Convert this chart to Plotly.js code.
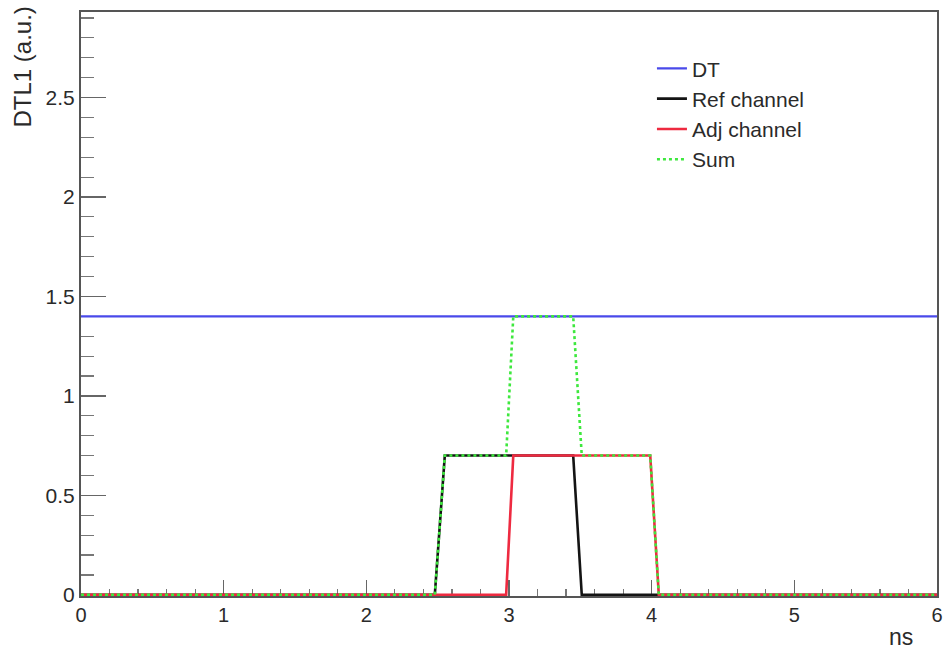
<!DOCTYPE html>
<html>
<head>
<meta charset="utf-8">
<script src="https://cdn.plot.ly/plotly-3.0.1.min.js"></script>
<style>html,body{margin:0;padding:0;background:#fff;}#chart{width:945px;height:652px;}</style>
</head>
<body>
<div id="chart"></div>
<script>
// Data
const dtX = [0, 6];
const dtY = [1.4, 1.4];
const refX = [0, 2.48, 2.55, 3.45, 3.51, 6];
const refY = [0, 0, 0.7, 0.7, 0, 0];
const adjX = [0, 2.98, 3.03, 3.99, 4.05, 6];
const adjY = [0, 0, 0.7, 0.7, 0, 0];
const sumX = [0, 2.48, 2.55, 2.98, 3.03, 3.45, 3.51, 3.99, 4.05, 6];
const sumY = [0, 0, 0.7, 0.7, 1.4, 1.4, 0.7, 0.7, 0, 0];
const seriesNames = ["DT", "Ref channel", "Adj channel", "Sum"];
const xTitle = "ns";
const yTitle = "DTL1 (a.u.)";

const font = "Liberation Sans, Arial, Helvetica, sans-serif";
const txt = "#2a2a2a";

const traces = [
  {x: dtX, y: dtY, name: seriesNames[0], mode: "lines", legendgroup: "a",
   line: {color: "#4a4aea", width: 2.3}},
  {x: refX, y: refY, name: seriesNames[1], mode: "lines", legendgroup: "b",
   line: {color: "#141414", width: 2.6}},
  {x: adjX, y: adjY, name: seriesNames[2], mode: "lines", legendgroup: "c",
   line: {color: "#ee2a40", width: 2.6}},
  {x: sumX, y: sumY, name: seriesNames[3], mode: "lines", legendgroup: "d",
   line: {color: "#3ee83e", width: 2.6, dash: "dot"}}
];

const layout = {
  width: 945, height: 652,
  margin: {l: 81, r: 8, t: 12, b: 56, pad: 0},
  paper_bgcolor: "#fff", plot_bgcolor: "#fff",
  font: {family: font, size: 20, color: txt},
  showlegend: true,
  legend: {x: 0.667, y: 0.938, xanchor: "left", yanchor: "top",
           bgcolor: "rgba(0,0,0,0)", borderwidth: 0, tracegroupgap: 0,
           font: {family: font, size: 21, color: txt}},
  xaxis: {range: [0, 6], dtick: 1, tick0: 0, showgrid: false, zeroline: false,
          showline: true, mirror: true, linecolor: "#555", linewidth: 2,
          ticks: "inside", ticklen: 16, tickwidth: 1.5, tickcolor: "#666",
          minor: {ticks: "inside", dtick: 0.2, ticklen: 7, tickwidth: 1.2, tickcolor: "#777", showgrid: false},
          tickfont: {family: font, size: 20, color: txt},
          layer: "below traces", fixedrange: true},
  yaxis: {range: [-0.006, 2.93], dtick: 0.5, tick0: 0, showgrid: false, zeroline: false,
          showline: true, mirror: true, linecolor: "#555", linewidth: 2,
          ticks: "inside", ticklen: 25, tickwidth: 1.5, tickcolor: "#666",
          minor: {ticks: "inside", dtick: 0.1, ticklen: 13, tickwidth: 1.2, tickcolor: "#777", showgrid: false},
          tickfont: {family: font, size: 21, color: txt},
          layer: "below traces", fixedrange: true},
  annotations: [
    {text: xTitle, xref: "paper", yref: "paper", x: 0.958, y: -0.07,
     xanchor: "center", yanchor: "middle", showarrow: false,
     font: {family: font, size: 23, color: txt}},
    {text: yTitle, xref: "paper", yref: "paper", x: -0.0689, y: 1.012,
     xanchor: "center", yanchor: "top", textangle: -90, showarrow: false,
     font: {family: font, size: 24, color: txt}}
  ]
};

Plotly.newPlot("chart", traces, layout, {displayModeBar: false, staticPlot: true});
</script>
</body>
</html>
